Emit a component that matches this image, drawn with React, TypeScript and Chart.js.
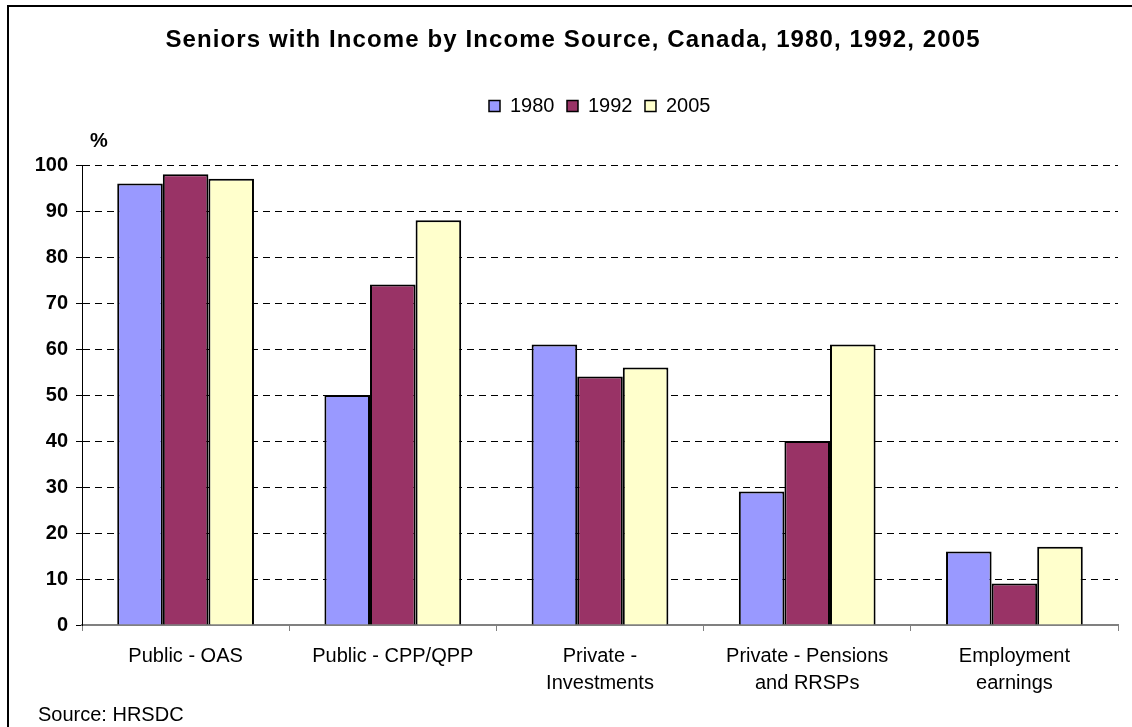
import React, { useEffect, useRef } from "react";
import { Chart, registerables } from "chart.js";

Chart.register(...registerables);

const categories: string[][] = [
  ["Public - OAS"],
  ["Public - CPP/QPP"],
  ["Private -", "Investments"],
  ["Private - Pensions", "and RRSPs"],
  ["Employment", "earnings"],
];
const years = ["1980", "1992", "2005"];
const values1980 = [96, 50, 61, 29, 16];
const values1992 = [98, 74, 54, 40, 9];
const values2005 = [97, 88, 56, 61, 17];
const yTicks = [0, 10, 20, 30, 40, 50, 60, 70, 80, 90, 100];
const colors = ["#9999FF", "#993366", "#FFFFCC"];

const titleText = "Seniors with Income by Income Source, Canada, 1980, 1992, 2005";
const sourceText = "Source: HRSDC";
const unitText = "%";

const FONT = "'Liberation Sans', Arial, sans-serif";

const decorPlugin = {
  id: "decor",
  afterDraw(chart: any) {
    const ctx = chart.ctx as any;
    const w = chart.width;
    const h = chart.height;
    ctx.save();
    // frame (left and top edges visible)
    ctx.strokeStyle = "#000";
    ctx.lineWidth = 2;
    ctx.beginPath();
    ctx.moveTo(8, h);
    ctx.lineTo(8, 6);
    ctx.lineTo(w, 6);
    ctx.stroke();
    // title
    ctx.fillStyle = "#000";
    ctx.font = `bold 24px ${FONT}`;
    ctx.textAlign = "center";
    ctx.textBaseline = "middle";
    ctx.letterSpacing = "1.1px";
    ctx.fillText(titleText, 573, 40);
    ctx.letterSpacing = "0px";
    // unit
    ctx.font = `bold 20px ${FONT}`;
    ctx.textAlign = "center";
    ctx.fillText(unitText, 99, 141);
    // source
    ctx.font = `20px ${FONT}`;
    ctx.textAlign = "left";
    ctx.fillText(sourceText, 38, 715);
    // legend
    ctx.font = `20px ${FONT}`;
    const box = 11;
    const gap = 10;
    const itemGap = 12.5;
    let x = 489;
    const cy = 106;
    years.forEach((y, i) => {
      ctx.fillStyle = colors[i];
      ctx.fillRect(x, cy - box / 2, box, box);
      ctx.strokeStyle = "#000";
      ctx.lineWidth = 1.5;
      ctx.strokeRect(x, cy - box / 2, box, box);
      ctx.fillStyle = "#000";
      ctx.textAlign = "left";
      ctx.fillText(y, x + box + gap, cy);
      x += box + gap + ctx.measureText(y).width + itemGap;
    });
    ctx.restore();
  },
};

export default function App() {
  const ref = useRef<HTMLCanvasElement>(null);
  useEffect(() => {
    document.body.style.margin = "0";
    const data = {
      labels: categories,
      datasets: [values1980, values1992, values2005].map((vals, i) => ({
        label: years[i],
        data: vals,
        backgroundColor: colors[i],
        borderColor: "#000",
        borderWidth: 2,
        borderSkipped: "bottom" as const,
        barPercentage: 1,
        categoryPercentage: 0.66,
      })),
    };
    const chart = new Chart(ref.current!, {
      type: "bar",
      data,
      options: {
        animation: false,
        responsive: false,
        maintainAspectRatio: false,
        layout: { padding: { top: 165, right: 14, left: 0, bottom: 0 } },
        plugins: {
          legend: { display: false },
          title: { display: false },
          tooltip: { enabled: false },
        },
        scales: {
          x: {
            afterFit(scale: any) {
              scale.height = 102;
            },
            grid: {
              offset: true,
              drawOnChartArea: false,
              drawTicks: true,
              tickLength: 6,
              color: "#808080",
            },
            border: { color: "#808080", width: 2 },
            ticks: {
              color: "#000",
              font: { family: FONT, size: 20, lineHeight: 1.35 },
              padding: 12,
              maxRotation: 0,
              autoSkip: false,
            },
          },
          y: {
            min: 0,
            max: 100,
            afterFit(scale: any) {
              scale.width = 82;
            },
            afterBuildTicks(scale: any) {
              scale.ticks = yTicks.map((v) => ({ value: v }));
            },
            grid: {
              color: (c: any) => (c.tick && c.tick.value === 0 ? "rgba(0,0,0,0)" : "#000"),
              lineWidth: 1,
              tickLength: 6,
              tickColor: "#000",
              tickBorderDash: [7, 5],
            },
            border: { color: "#000", width: 1, dash: [7, 5] },
            ticks: {
              color: "#000",
              font: { family: FONT, size: 20, weight: "bold" },
              padding: 8,
            },
          },
        },
      },
      plugins: [decorPlugin],
    });
    return () => chart.destroy();
  }, []);
  return <canvas ref={ref} width={1132} height={727} style={{ display: "block" }} />;
}
